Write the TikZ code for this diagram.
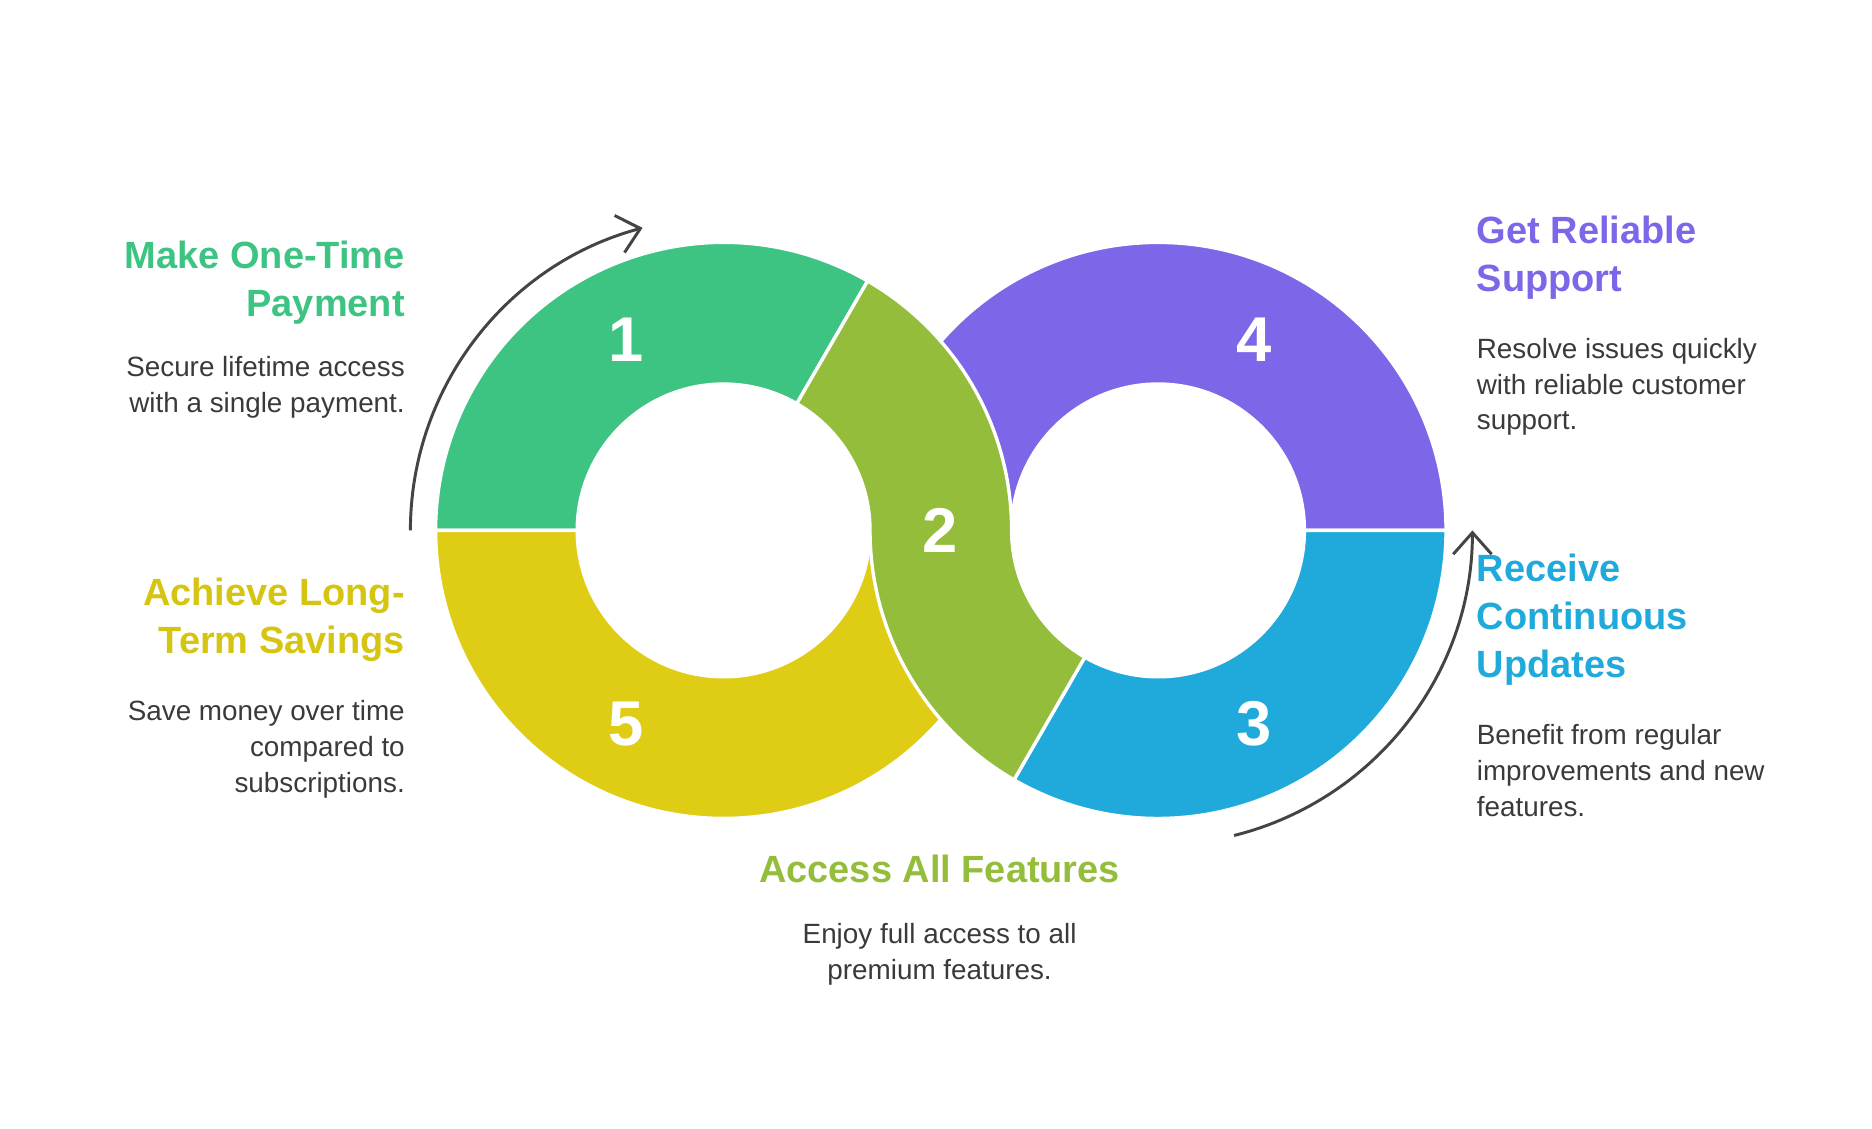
\documentclass[tikz,border=0pt]{standalone}
\usepackage{fontspec}
\setmainfont{Liberation Sans}
\usetikzlibrary{calc,arrows.meta}
\definecolor{cgreen}{HTML}{3EC482}
\definecolor{colive}{HTML}{93BD3A}
\definecolor{cyellow}{HTML}{DFCD15}
\definecolor{cyellowt}{HTML}{D6C412}
\definecolor{cpurple}{HTML}{7E66E8}
\definecolor{cblue}{HTML}{1FAADB}
\definecolor{ctext}{HTML}{3A3A3A}
\definecolor{carrow}{HTML}{444444}
\tikzset{
  seg/.style={draw=white,line width=0.8pt,line join=round},
  num/.style={text=white,font=\fontsize{15}{18}\selectfont\bfseries,inner sep=0},
  ttl/.style={font=\fontsize{9}{11.4}\selectfont\bfseries,inner sep=0},
  body/.style={text=ctext,font=\fontsize{6.6}{8.5}\selectfont,inner sep=0},
  cyc/.style={draw=carrow,line width=0.7pt,-{Straight Barb[length=1.8mm,width=3.2mm]}}
}
\begin{document}
\begin{tikzpicture}
\useasboundingbox (0,0) rectangle (15.6,9.4);
\coordinate (L) at (6.03,4.98);
\coordinate (R) at (9.65,4.98);
\def\Ro{2.4}\def\Ri{1.22}
% green 1
\path[seg,fill=cgreen] ($(L)+(60:\Ro)$) arc[start angle=60,end angle=180,radius=\Ro] -- ($(L)+(180:\Ri)$) arc[start angle=180,end angle=60,radius=\Ri] -- cycle;
% yellow 5
\path[seg,fill=cyellow] ($(L)+(180:\Ro)$) arc[start angle=180,end angle=360,radius=\Ro] -- ($(L)+(0:\Ri)$) arc[start angle=360,end angle=180,radius=\Ri] -- cycle;
% purple 4
\path[seg,fill=cpurple] ($(R)+(0:\Ro)$) arc[start angle=0,end angle=180,radius=\Ro] -- ($(R)+(180:\Ri)$) arc[start angle=180,end angle=0,radius=\Ri] -- cycle;
% blue 3
\path[seg,fill=cblue] ($(R)+(240:\Ro)$) arc[start angle=240,end angle=360,radius=\Ro] -- ($(R)+(0:\Ri)$) arc[start angle=360,end angle=240,radius=\Ri] -- cycle;
% olive 2
\path[seg,fill=colive] ($(L)+(60:\Ro)$) arc[start angle=60,end angle=0,radius=\Ro]
  arc[start angle=180,end angle=240,radius=\Ri] -- ($(R)+(240:\Ro)$)
  arc[start angle=240,end angle=180,radius=\Ro]
  arc[start angle=0,end angle=60,radius=\Ri] -- cycle;
% numbers
\node[num] (n1) at (5.22,6.57) {1};
\node[num] (n5) at (5.22,3.37) {5};
\node[num] (n2) at (7.83,4.98) {2};
\node[num] (n4) at (10.45,6.57) {4};
\node[num] (n3) at (10.45,3.37) {3};
% arrows
\coordinate (a1s) at ($(L)+(180:2.61)$);
\coordinate (a2s) at ($(R)+(-76:2.62)$);
\draw[cyc] (a1s) arc[start angle=180,end angle=105,radius=2.61];
\draw[cyc] (a2s) arc[start angle=-76,end angle=0,radius=2.62];
% texts
\node[ttl,text=cgreen,align=right,anchor=north east] (t1) at (3.38,7.40) {Make One-Time\\Payment};
\node[body,align=right,anchor=north east] (b1) at (3.38,6.44) {Secure lifetime access\\with a single payment.};
\node[ttl,text=cyellowt,align=right,anchor=north east] (t5) at (3.38,4.59) {Achieve Long-\\Term Savings};
\node[body,align=right,anchor=north east] (b5) at (3.38,3.57) {Save money over time\\compared to\\subscriptions.};
\node[ttl,text=cpurple,align=left,anchor=north west] (t4) at (12.30,7.61) {Get Reliable\\Support};
\node[body,align=left,anchor=north west] (b4) at (12.30,6.59) {Resolve issues quickly\\with reliable customer\\support.};
\node[ttl,text=cblue,align=left,anchor=north west] (t3) at (12.30,4.79) {Receive\\Continuous\\Updates};
\node[body,align=left,anchor=north west] (b3) at (12.30,3.37) {Benefit from regular\\improvements and new\\features.};
\node[ttl,text=colive,align=center,anchor=north] (t2) at (7.83,2.28) {Access All Features};
\node[body,align=center,anchor=north] (b2) at (7.83,1.71) {Enjoy full access to all\\premium features.};
\end{tikzpicture}
\end{document}
